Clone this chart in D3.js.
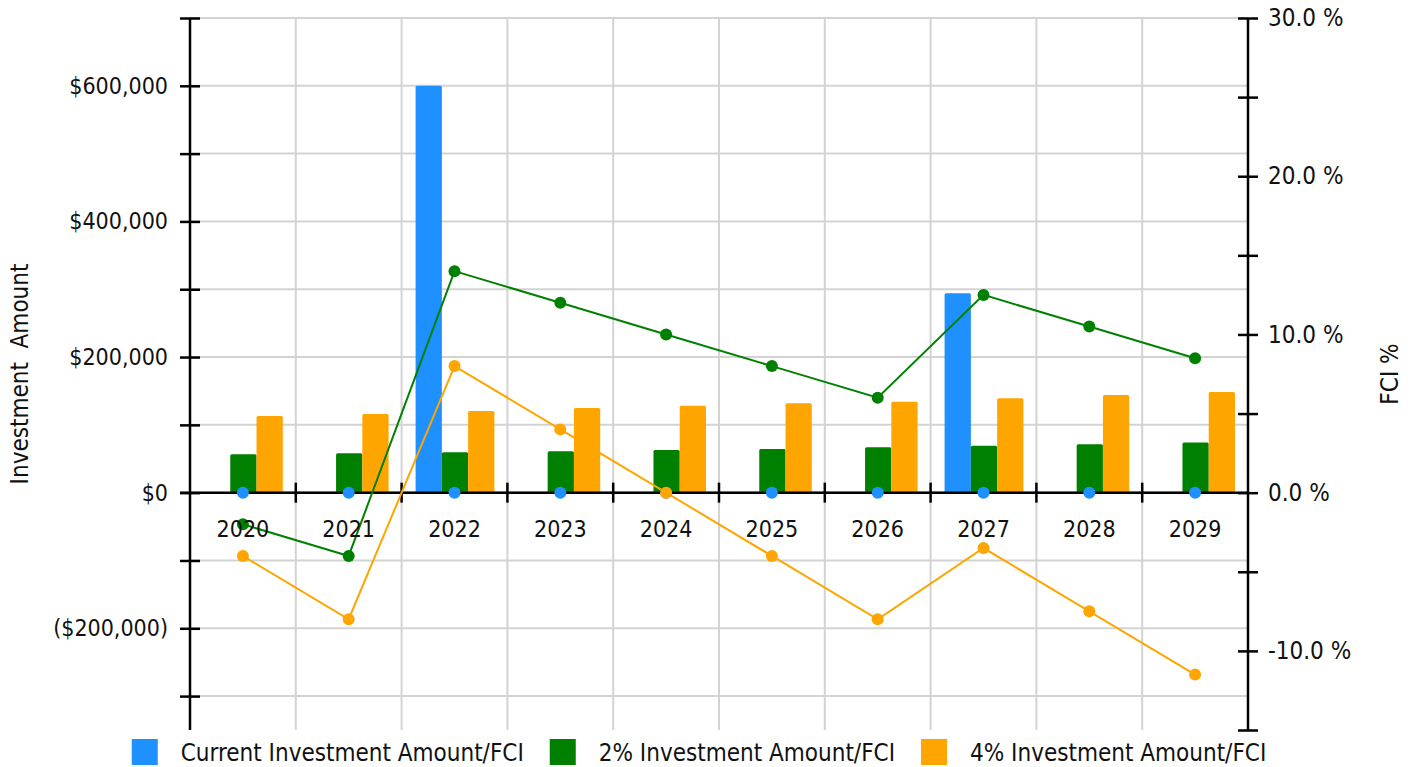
<!DOCTYPE html>
<html>
<head>
<meta charset="utf-8">
<script src="https://cdn.jsdelivr.net/npm/d3@7"></script>
<style>
  html, body { margin: 0; padding: 0; background: #fff; }
  svg { display: block; }
  text { font-family: "DejaVu Sans Condensed", "DejaVu Sans", sans-serif; fill: #111; }
</style>
</head>
<body>
<svg id="chart" width="1417" height="767"></svg>
<script>
// ---------- data ----------
const categories = ["2020","2021","2022","2023","2024","2025","2026","2027","2028","2029"];
const seriesNames = ["Current Investment Amount/FCI","2% Investment Amount/FCI","4% Investment Amount/FCI"];
const seriesColors = ["#1e90ff","#008000","#ffa500"];
const amountCurrent = [0, 0, 600000, 0, 0, 0, 0, 294000, 0, 0];
const amount2 = [56600, 58000, 59500, 61000, 62800, 64500, 67000, 69300, 71500, 74000];
const amount4 = [113000, 116000, 120500, 125000, 128000, 132000, 134200, 139200, 144000, 148500];
const fciCurrent = [0, 0, 0, 0, 0, 0, 0, 0, 0, 0];
const fci2 = [-2.0, -4.0, 14.0, 12.0, 10.0, 8.0, 6.0, 12.5, 10.5, 8.5];
const fci4 = [-4.0, -8.0, 8.0, 4.0, 0.0, -4.0, -8.0, -3.5, -7.5, -11.5];
const leftDomain = [-350000, 700000];
const leftTicks = [-300000,-200000,-100000,0,100000,200000,300000,400000,500000,600000,700000];
const leftLabelTicks = [-200000,0,200000,400000,600000];
const rightDomain = [-15, 30];
const rightTicks = [-15,-10,-5,0,5,10,15,20,25,30];
const rightLabelTicks = [-10,0,10,20,30];
const leftTitle = "Investment  Amount";
const rightTitle = "FCI %";

// ---------- layout ----------
const svg = d3.select("#chart");
const L = 190, R = 1248, T = 18, B = 730;

const x0 = d3.scaleBand().domain(categories).range([L, R]).padding(0);
const bw = x0.bandwidth();
const x1 = d3.scaleBand().domain(seriesNames).range([14, bw - 13]).padding(0);
const yL = d3.scaleLinear().domain(leftDomain).range([B, T]);
const yR = d3.scaleLinear().domain(rightDomain).range([B, T]);
const y0 = yL(0);

// grid
const grid = svg.append("g");
grid.selectAll("line.h").data(leftTicks).enter().append("line")
  .attr("x1", L).attr("x2", R)
  .attr("y1", d => yL(d)).attr("y2", d => yL(d))
  .attr("stroke", "#d3d3d3").attr("stroke-width", 2);
grid.selectAll("line.v").data(categories.slice(1)).enter().append("line")
  .attr("x1", d => x0(d)).attr("x2", d => x0(d))
  .attr("y1", T).attr("y2", B)
  .attr("stroke", "#d3d3d3").attr("stroke-width", 2);

// bars
const amounts = [amountCurrent, amount2, amount4];
const barG = svg.append("g");
categories.forEach((c, i) => {
  seriesNames.forEach((s, k) => {
    const v = amounts[k][i];
    barG.append("rect")
      .attr("x", x0(c) + x1(s))
      .attr("width", x1.bandwidth())
      .attr("y", Math.min(yL(v), y0))
      .attr("height", Math.abs(yL(v) - y0))
      .attr("rx", 1.5)
      .attr("fill", seriesColors[k])
      .attr("stroke", v === 0 ? seriesColors[k] : "none")
      .attr("stroke-width", v === 0 ? 3 : 0);
  });
});

// current FCI line (underneath axis)
const cx = c => x0(c) + bw / 2;
const lineGen = vals => d3.line().x((d, i) => cx(categories[i])).y(d => yR(d))(vals);
svg.append("path").attr("d", lineGen(fciCurrent)).attr("fill", "none")
  .attr("stroke", seriesColors[0]).attr("stroke-width", 2);

// left axis
const fmtL = v => v < 0 ? "($" + d3.format(",")(-v) + ")" : "$" + d3.format(",")(v);
const axL = svg.append("g").attr("transform", `translate(${L},0)`)
  .call(d3.axisLeft(yL).tickValues(leftTicks).tickSize(10).tickPadding(12)
    .tickFormat(d => leftLabelTicks.includes(d) ? fmtL(d) : ""));
axL.select(".domain").attr("d", `M0,${T}V${B}`).attr("stroke", "#000").attr("stroke-width", 2.5);
axL.selectAll(".tick line").attr("x1", -10).attr("x2", 10).attr("stroke", "#000").attr("stroke-width", 2.5);
axL.selectAll(".tick text").attr("font-size", 23).attr("font-family", null).style("fill", "#111");

// right axis
const fmtR = v => d3.format(".1f")(v).replace("\u2212", "-") + " %";
const axR = svg.append("g").attr("transform", `translate(${R},0)`)
  .call(d3.axisRight(yR).tickValues(rightTicks).tickSize(10).tickPadding(10)
    .tickFormat(d => rightLabelTicks.includes(d) ? fmtR(d) : ""));
axR.select(".domain").attr("d", `M0,${T}V${B}`).attr("stroke", "#000").attr("stroke-width", 2.5);
axR.selectAll(".tick line").attr("x1", -10).attr("x2", 10).attr("stroke", "#000").attr("stroke-width", 2.5);
axR.selectAll(".tick text").attr("font-size", 24).attr("font-family", null).style("fill", "#111");

// x axis at zero
const axX = svg.append("g").attr("transform", `translate(0,${y0})`);
axX.append("line").attr("x1", L - 10).attr("x2", R).attr("y1", 0).attr("y2", 0)
  .attr("stroke", "#000").attr("stroke-width", 2.5);
axX.selectAll("line.t").data(categories.slice(1)).enter().append("line")
  .attr("x1", d => x0(d)).attr("x2", d => x0(d)).attr("y1", -10).attr("y2", 10)
  .attr("stroke", "#000").attr("stroke-width", 2.5);

// FCI lines
const fcis = [fciCurrent, fci2, fci4];
[1, 2].forEach(k => {
  svg.append("path").attr("d", lineGen(fcis[k])).attr("fill", "none")
    .attr("stroke", seriesColors[k]).attr("stroke-width", 2);
});
[0, 1, 2].forEach(k => {
  svg.append("g").selectAll("circle").data(fcis[k]).enter().append("circle")
    .attr("cx", (d, i) => cx(categories[i])).attr("cy", d => yR(d))
    .attr("r", 6).attr("fill", seriesColors[k]);
});

// x labels
svg.append("g").selectAll("text").data(categories).enter().append("text")
  .attr("x", d => cx(d)).attr("y", y0 + 44)
  .attr("text-anchor", "middle").attr("font-size", 23).text(d => d);

// axis titles
svg.append("text").attr("transform", `translate(28,${(T + B) / 2}) rotate(-90)`)
  .attr("text-anchor", "middle").attr("font-size", 24).style("white-space", "pre").text(leftTitle);
svg.append("text").attr("transform", `translate(1398,${(T + B) / 2}) rotate(-90)`)
  .attr("text-anchor", "middle").attr("font-size", 24).text(rightTitle);

// legend
const leg = svg.append("g");
let lx = 0;
seriesNames.forEach((s, k) => {
  const g = leg.append("g");
  g.append("rect").attr("x", 0).attr("y", 739).attr("width", 26).attr("height", 26).attr("fill", seriesColors[k]);
  const t = g.append("text").attr("x", 49).attr("y", 761).attr("font-size", 24).text(s);
  const w = t.node().getComputedTextLength();
  g.attr("transform", `translate(${lx},0)`);
  lx += 49 + w + 26;
});
const total = lx - 26;
leg.attr("transform", `translate(${699 - total / 2},0)`);
</script>
</body>
</html>
